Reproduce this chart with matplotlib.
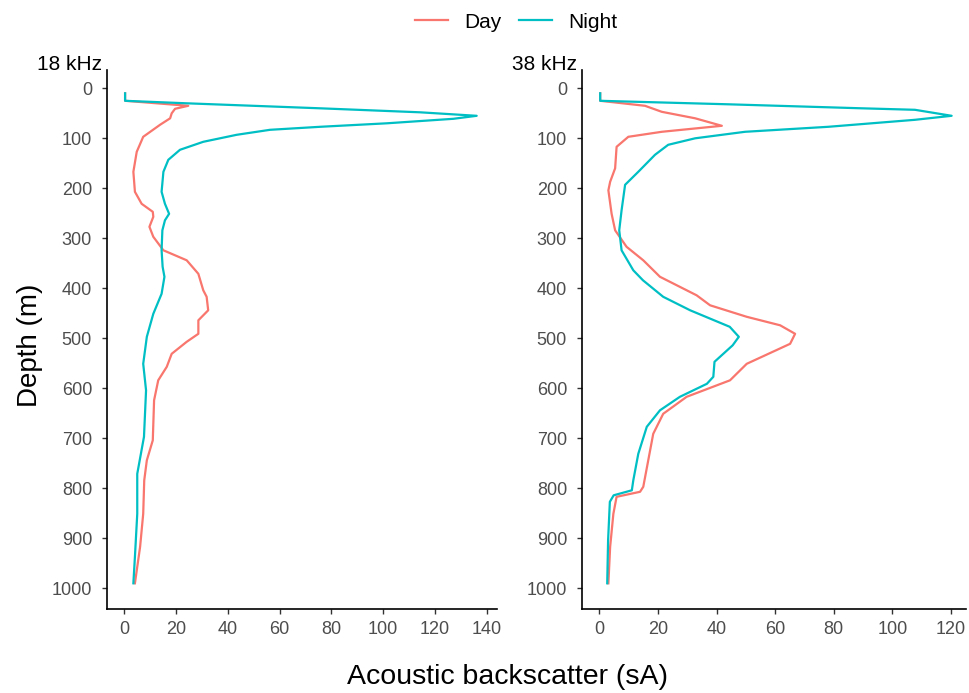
import matplotlib
matplotlib.use('Agg')
import matplotlib.pyplot as plt
from matplotlib.lines import Line2D

plt.rcParams['font.family'] = ['Liberation Sans', 'DejaVu Sans']

# 18 kHz profiles (depth in m, backscatter sA)
depth_18_day = [10, 25, 35, 41, 50, 60, 73, 97, 127, 167, 207, 231, 247, 257, 277, 297,
                324, 344, 371, 404, 417, 444, 464, 491, 507, 531, 557, 584, 624, 704,
                744, 784, 851, 917, 990]
sa_18_day = [0.3, 0.3, 24.7, 19.6, 18.3, 17.7, 13.8, 7.3, 4.8, 3.5, 4.1, 6.7, 11.0, 11.2, 9.7, 11.2,
             15.1, 24.1, 28.6, 30.5, 31.8, 32.4, 28.6, 28.6, 24.1, 18.3, 16.4, 13.1, 11.5, 11.0,
             8.7, 7.7, 7.3, 6.1, 4.1]

depth_18_night = [10, 25, 30, 40, 48, 55, 61, 70, 77, 83, 93, 107, 123, 143, 167, 207, 231,
                  251, 264, 284, 324, 357, 377, 411, 451, 497, 551, 604, 697, 771, 851, 937, 990]
sa_18_night = [0.3, 0.3, 24.1, 75.6, 114.2, 136.1, 127.1, 101.4, 75.6, 56.3, 43.4, 30.5, 21.5,
               17.0, 15.1, 14.4, 15.7, 17.3, 15.7, 14.7, 14.4, 14.8, 15.5, 14.4, 11.2, 8.7, 7.3,
               8.4, 7.6, 5.0, 5.0, 4.1, 3.5]

# 38 kHz profiles
depth_38_day = [10, 25, 35, 47, 60, 75, 87, 97, 117, 160, 187, 204, 251, 284, 317, 344, 377,
                414, 434, 457, 474, 491, 511, 551, 584, 617, 651, 691, 797, 807, 817, 851,
                917, 990]
sa_38_day = [0.3, 0.3, 15.6, 21.3, 32.7, 41.8, 21.3, 9.9, 5.9, 5.4, 3.7, 3.1, 4.2, 5.4, 9.3,
             15.0, 20.7, 33.2, 37.8, 50.3, 61.7, 66.8, 65.1, 50.3, 44.6, 29.8, 21.8, 18.4,
             15.0, 13.9, 5.9, 4.8, 3.7, 3.1]

depth_38_night = [10, 25, 32, 40, 43, 55, 63, 77, 87, 100, 113, 133, 167, 193, 244, 284, 324,
                  364, 384, 417, 444, 477, 497, 514, 547, 577, 591, 617, 644, 677, 731, 784,
                  804, 814, 827, 904, 990]
sa_38_night = [0.3, 0.3, 44.0, 89.5, 107.7, 120.2, 107.7, 78.1, 49.7, 32.7, 23.5, 19.0, 13.3,
               8.8, 7.6, 6.8, 7.6, 11.6, 14.9, 21.8, 31.0, 44.5, 47.6, 45.5, 39.3, 38.9, 36.7,
               27.5, 20.7, 16.2, 13.3, 11.6, 11.1, 4.9, 3.6, 3.0, 2.7]

panel_labels = ['18 kHz', '38 kHz']
x_ticks = [list(range(0, 141, 20)), list(range(0, 121, 20))]
y_ticks = list(range(0, 1001, 100))

day_col = '#F8766D'
night_col = '#00BFC4'

W, H = 970, 693
fig = plt.figure(figsize=(W / 100, H / 100), dpi=100)

def frac(left, right, top, bottom):
    return [left / W, (H - bottom) / H, (right - left) / W, (bottom - top) / H]

ax1 = fig.add_axes(frac(107.3, 496.6, 70, 609.3))
ax2 = fig.add_axes(frac(582.3, 965.7, 70, 609.3))

profiles = [(ax1, depth_18_day, sa_18_day, depth_18_night, sa_18_night, (-6.57, 143.8)),
            (ax2, depth_38_day, sa_38_day, depth_38_night, sa_38_night, (-5.8, 125.0))]

for i, (ax, dd, sd, dn, sn, xl) in enumerate(profiles):
    ax.plot(sd, dd, color=day_col, lw=1.6, solid_joinstyle='round')
    ax.plot(sn, dn, color=night_col, lw=1.6, solid_joinstyle='round')
    ax.set_xlim(*xl)
    ax.set_ylim(1042, -36.6)
    ax.set_xticks(x_ticks[i])
    ax.set_yticks(y_ticks)
    for s in ['top', 'right']:
        ax.spines[s].set_visible(False)
    for s in ['left', 'bottom']:
        ax.spines[s].set_color('black')
        ax.spines[s].set_linewidth(1.2)
    ax.tick_params(direction='out', length=3.5, width=1.0, color='#333333',
                   labelcolor='#4D4D4D', labelsize=13)
    ax.tick_params(axis='x', pad=5)
    ax.tick_params(axis='y', pad=7.5)
    # panel label sits just left of the axis top
    pos = ax.get_position()
    fig.text(pos.x0 - 5 / W, 1 - 70 / H, panel_labels[i], ha='right', va='baseline',
             fontsize=15, color='black')

fig.text(30 / W, 1 - 345 / H, 'Depth (m)', rotation=90, ha='center', va='center',
         fontsize=20, color='black')
fig.text(508 / W, 1 - 677 / H, 'Acoustic backscatter (sA)', ha='center', va='center',
         fontsize=20.5, color='black')

handles = [Line2D([], [], color=day_col, lw=1.6), Line2D([], [], color=night_col, lw=1.6)]
fig.legend(handles, ['Day', 'Night'], loc='center', bbox_to_anchor=(516 / W, 1 - 22 / H),
           ncol=2, frameon=False, fontsize=15, handlelength=1.6, handletextpad=0.75,
           columnspacing=0.85)

fig.savefig('out.png', dpi=100)
